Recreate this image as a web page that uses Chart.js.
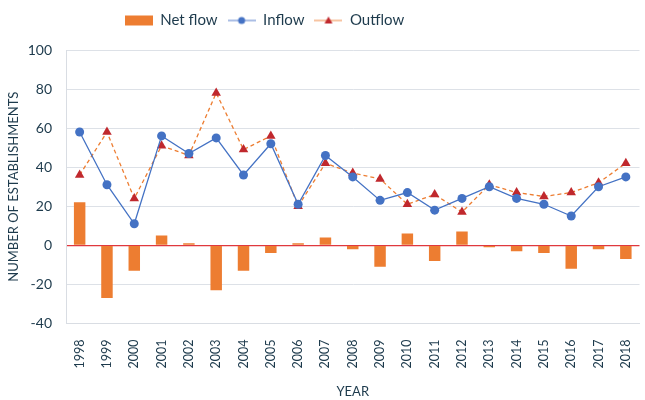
<!DOCTYPE html>
<html>
<head>
<meta charset="utf-8">
<script src="https://cdn.jsdelivr.net/npm/chart.js@4"></script>
<style>
  html, body { margin:0; padding:0; background:#fff; }
  #wrap { width:645px; height:400px; }
</style>
</head>
<body>
<div id="wrap"><canvas id="c"></canvas></div>
<script>
const years = ['1998','1999','2000','2001','2002','2003','2004','2005','2006','2007','2008','2009','2010','2011','2012','2013','2014','2015','2016','2017','2018'];
const netFlow = [22,-27,-13,5,1,-23,-13,-4,1,4,-2,-11,6,-8,7,-1,-3,-4,-12,-2,-7];
const inflow  = [58,31,11,56,47,55,36,52,21,46,35,23,27,18,24,30,24,21,15,30,35];
const outflow = [36,58,24,51,46,78,49,56,20,42,37,34,21,26,17,31,27,25,27,32,42];

const TXT = '#1d3a4c';
const FONT = 'Lato, "Open Sans", sans-serif';

// little legend swatches: line with marker in the middle
function swatch(kind) {
  const cv = document.createElement('canvas');
  cv.width = 28; cv.height = 12;
  const g = cv.getContext('2d');
  if (kind === 'bar') {
    g.fillStyle = '#ED7D31'; g.fillRect(0, 1, 28, 10);
    return cv;
  }
  g.lineWidth = 1.5;
  g.strokeStyle = kind === 'in' ? '#8fa9dc' : '#f4b183';
  g.beginPath(); g.moveTo(0, 6); g.lineTo(28, 6); g.stroke();
  if (kind === 'in') {
    g.fillStyle = '#4472C4';
    g.beginPath(); g.arc(14, 6, 3.5, 0, Math.PI*2); g.fill();
  } else {
    g.fillStyle = '#C0282D';
    g.beginPath(); g.moveTo(14, 2); g.lineTo(18, 9); g.lineTo(10, 9); g.closePath(); g.fill();
  }
  return cv;
}
const swatches = [swatch('bar'), swatch('in'), swatch('out')];

// extra room under the legend, and legend centred a bit left like the original
const legendTweak = {
  id: 'legendTweak',
  beforeLayout(chart) {
    const l = chart.legend;
    if (l && !l._tweaked) {
      const fit = l.fit;
      l.fit = function () { fit.call(this); this.height += 12; };
      l._tweaked = true;
    }
  },
  afterLayout(chart) {
    chart.legend.right -= 116;
    chart.legend.width -= 116;
  }
};

new Chart(document.getElementById('c'), {
  type: 'bar',
  data: {
    labels: years,
    datasets: [
      { type:'bar', label:'Net flow', data:netFlow, backgroundColor:'#ED7D31',
        barPercentage:0.42, categoryPercentage:1, order:3 },
      { type:'line', label:'Inflow', data:inflow, borderColor:'#4472C4', borderWidth:1.3,
        pointStyle:'circle', pointRadius:4.5, pointBackgroundColor:'#4472C4', pointBorderWidth:0,
        tension:0, order:1 },
      { type:'line', label:'Outflow', data:outflow, borderColor:'#ED7D31', borderWidth:1.3,
        borderDash:[4,3], pointStyle:'triangle', pointRadius:5.5, pointBackgroundColor:'#C0282D',
        pointBorderWidth:0, tension:0, order:2 }
    ]
  },
  options: {
    responsive:true, maintainAspectRatio:false, animation:false,
    layout:{ padding:{ left:0, right:0, top:3, bottom:0 } },
    plugins:{
      tooltip:{ enabled:false },
      legend:{
        position:'top',
        labels:{
          usePointStyle:true, pointStyleWidth:28, color:TXT, font:{ family:FONT, size:15 }, padding:10,
          generateLabels: (chart) => chart.data.datasets.map((d, i) => ({
            text:d.label, pointStyle:swatches[i], fontColor:TXT, datasetIndex:i,
            hidden:false, lineWidth:0
          }))
        }
      }
    },
    scales:{
      x:{
        offset:true,
        grid:{ display:false },
        border:{ color:'#d9dde3' },
        ticks:{ color:TXT, font:{ family:FONT, size:12.5 }, minRotation:90, maxRotation:90, padding:8 },
        title:{ display:true, text:'YEAR', color:TXT, font:{ family:FONT, size:13 }, padding:{ top:8, bottom:0 } },
        afterFit: (s) => { s.paddingLeft = 0; s.paddingRight = 0; }
      },
      y:{
        min:-40, max:100,
        ticks:{ stepSize:20, color:TXT, font:{ family:FONT, size:14 }, padding:14 },
        grid:{ color:(c) => c.tick.value === 0 ? '#e0383e' : '#dde1e7', lineWidth:(c) => c.tick.value === 0 ? 1.3 : 1, drawTicks:false },
        border:{ color:'#d9dde3' },
        title:{ display:true, text:'NUMBER OF ESTABLISHMENTS', color:TXT, font:{ family:FONT, size:13 }, padding:{ top:6, bottom:2 } },
        afterFit: (s) => { s.width = 66; }
      }
    }
  },
  plugins:[legendTweak]
});
</script>
</body>
</html>
